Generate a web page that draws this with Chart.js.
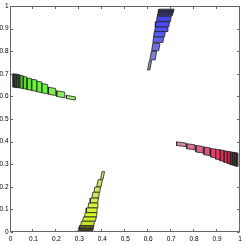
<!DOCTYPE html>
<html><head><meta charset="utf-8">
<style>html,body{margin:0;padding:0;background:#fff;overflow:hidden}</style>
<script src="https://cdn.jsdelivr.net/npm/chart.js@4/dist/chart.umd.min.js"></script>
</head><body>
<canvas id="c" width="245" height="245"></canvas>
<script>
// ---- tick values / labels ----
const tickValues = [0,0.1,0.2,0.3,0.4,0.5,0.6,0.7,0.8,0.9,1];
const tickLabels = ['0','0.1','0.2','0.3','0.4','0.5','0.6','0.7','0.8','0.9','1'];

// ---- blue group (top), listed from the top edge downward ----
const blueX = [0.679,0.677,0.675,0.673,0.668,0.662,0.657,0.649,0.644,0.633,0.622,0.606];
const blueY = [0.982,0.975,0.967,0.960,0.943,0.919,0.897,0.875,0.851,0.818,0.780,0.737];
const blueW = [0.065,0.065,0.064,0.063,0.061,0.059,0.055,0.048,0.044,0.031,0.023,0.010];
const blueH = [0.0074,0.0074,0.0074,0.0074,0.025,0.023,0.021,0.023,0.025,0.032,0.038,0.041];

// ---- green group (left), listed from the left edge rightward ----
const greenX = [0.0146,0.0218,0.0290,0.0364,0.0473,0.0625,0.0813,0.1033,0.1250,0.1490,0.1810,0.2190,0.2630];
const greenY = [0.670,0.669,0.668,0.667,0.664,0.660,0.654,0.649,0.642,0.634,0.622,0.609,0.594];
const greenW = [0.0074,0.0074,0.0074,0.0074,0.0144,0.016,0.019,0.022,0.022,0.026,0.032,0.035,0.039];
const greenH = [0.059,0.059,0.059,0.058,0.056,0.054,0.051,0.050,0.047,0.041,0.031,0.025,0.014];

// ---- red group (right), listed from left to the right edge ----
const redX = [0.744,0.786,0.824,0.856,0.883,0.903,0.921,0.937,0.951,0.961,0.970,0.978,0.987];
const redY = [0.388,0.377,0.366,0.357,0.349,0.343,0.338,0.333,0.329,0.326,0.324,0.322,0.320];
const redW = [0.041,0.036,0.032,0.026,0.022,0.019,0.017,0.015,0.0125,0.0085,0.0085,0.0085,0.0085];
const redH = [0.016,0.022,0.029,0.034,0.038,0.044,0.048,0.051,0.054,0.056,0.057,0.058,0.059];

// ---- yellow group (bottom), listed from the bottom edge upward ----
const yellowX = [0.326,0.328,0.330,0.332,0.336,0.344,0.350,0.354,0.359,0.365,0.371,0.378,0.388,0.401];
const yellowY = [0.004,0.011,0.018,0.025,0.038,0.057,0.076,0.096,0.117,0.139,0.163,0.187,0.215,0.250];
const yellowW = [0.062,0.062,0.062,0.061,0.057,0.056,0.052,0.046,0.040,0.033,0.029,0.025,0.019,0.011];
const yellowH = [0.0066,0.0066,0.0066,0.0066,0.019,0.019,0.019,0.021,0.022,0.022,0.026,0.024,0.032,0.034];

// ---- styles (kept apart from data) ----
const blueFill = ['#34346e','#38387e','#3c3c96','#4040b4','#4646e0','#4a4afa','#5050ff','#5858f6','#6262ee','#6e6ee4','#7c7cda','#8a8acc'];
const greenFill = ['#2e5e22','#336e24','#3a8226','#42982a','#52c22e','#5cdc30','#64f032','#66f636','#6af43a','#70f242','#7cee50','#8aee62','#9cee7a'];
const redFill = ['#dc88aa','#de7099','#e2608a','#e6507a','#ea4270','#ee3464','#e82c5c','#da2854','#c8284c','#b02844','#9a283e','#882838','#762833'];
const yellowFill = ['#4e4e1c','#62621e','#7e8020','#a0ae22','#c6e424','#d0ee26','#d6f42a','#d6f432','#d4f03c','#d2ec48','#d0e856','#cee462','#cde072','#ccdc82'];
const edgeColor = 'rgba(35,35,35,0.9)';
const axisColor = '#666';
const tilt = 0.5;

function slope(a, b, i) {
  const n = a.length, i0 = Math.max(0, i - 1), i1 = Math.min(n - 1, i + 1);
  const d = a[i1] - a[i0];
  return d === 0 ? 0 : tilt * (b[i1] - b[i0]) / d;
}
// bars stacked along y (top/bottom edges horizontal, sides follow the path)
function stackY(xs, ys, ws, hs, fills) {
  return xs.map((cx, i) => {
    const s = slope(ys, xs, i), cy = ys[i], w = ws[i], h = hs[i];
    const y0 = cy - h / 2, y1 = cy + h / 2, xb = cx - s * h / 2, xt = cx + s * h / 2;
    return poly([[xb - w/2, y0],[xb + w/2, y0],[xt + w/2, y1],[xt - w/2, y1],[xb - w/2, y0]], fills[i]);
  });
}
// bars stacked along x (sides vertical, top/bottom follow the path)
function stackX(xs, ys, ws, hs, fills) {
  return xs.map((cx, i) => {
    const s = slope(xs, ys, i), cy = ys[i], w = ws[i], h = hs[i];
    const x0 = cx - w / 2, x1 = cx + w / 2, yl = cy - s * w / 2, yr = cy + s * w / 2;
    return poly([[x0, yl - h/2],[x1, yr - h/2],[x1, yr + h/2],[x0, yl + h/2],[x0, yl - h/2]], fills[i]);
  });
}
function poly(pts, fill) {
  return {
    data: pts.map(p => ({x: p[0], y: p[1]})),
    showLine: true, fill: 'shape', tension: 0,
    backgroundColor: fill, borderColor: edgeColor, borderWidth: 0.9,
    pointRadius: 0, pointHoverRadius: 0
  };
}

const datasets = [].concat(
  stackY(blueX, blueY, blueW, blueH, blueFill),
  stackX(greenX, greenY, greenW, greenH, greenFill),
  stackX(redX, redY, redW, redH, redFill),
  stackY(yellowX, yellowY, yellowW, yellowH, yellowFill)
);

const boxTicks = {
  id: 'boxTicks',
  afterDatasetsDraw(chart) {
    const {ctx, chartArea: a, scales} = chart;
    ctx.save();
    ctx.strokeStyle = axisColor;
    ctx.lineWidth = 1;
    const L = Math.round(a.left) - 0.5, R = Math.round(a.right) - 0.5;
    const T = Math.round(a.top) + 0.5, B = Math.round(a.bottom) - 0.5;
    ctx.strokeRect(L, T, R - L, B - T);
    const len = 2.5;
    ctx.beginPath();
    tickValues.forEach(v => {
      const x = Math.round(scales.x.getPixelForValue(v)) - 0.5;
      ctx.moveTo(x, B); ctx.lineTo(x, B - len);
      ctx.moveTo(x, T); ctx.lineTo(x, T + len);
      const y = Math.round(scales.y.getPixelForValue(v)) + 0.5;
      ctx.moveTo(L, y); ctx.lineTo(L + len, y);
      ctx.moveTo(R, y); ctx.lineTo(R - len, y);
    });
    ctx.stroke();
    ctx.restore();
  }
};

const font = {family: '"Liberation Sans", Arial, sans-serif', size: 6.5};
function axis(isX) {
  return {
    type: 'linear', min: 0, max: 1,
    grid: {display: false, drawTicks: false},
    border: {display: false},
    afterBuildTicks: s => { s.ticks = tickValues.map(v => ({value: v})); },
    afterFit: s => { if (isX) s.height = 13; else s.width = 10.5; },
    ticks: {
      font, color: '#000', padding: isX ? 3 : 2, maxRotation: 0, autoSkip: false,
      callback: (v, i) => tickLabels[i]
    }
  };
}

new Chart(document.getElementById('c'), {
  type: 'scatter',
  data: {datasets},
  options: {
    responsive: false, animation: false, events: [],
    layout: {padding: {top: 5, right: 5, left: 0, bottom: 0}},
    plugins: {legend: {display: false}, tooltip: {enabled: false}},
    scales: {x: axis(true), y: axis(false)}
  },
  plugins: [boxTicks]
});
</script>
</body></html>
